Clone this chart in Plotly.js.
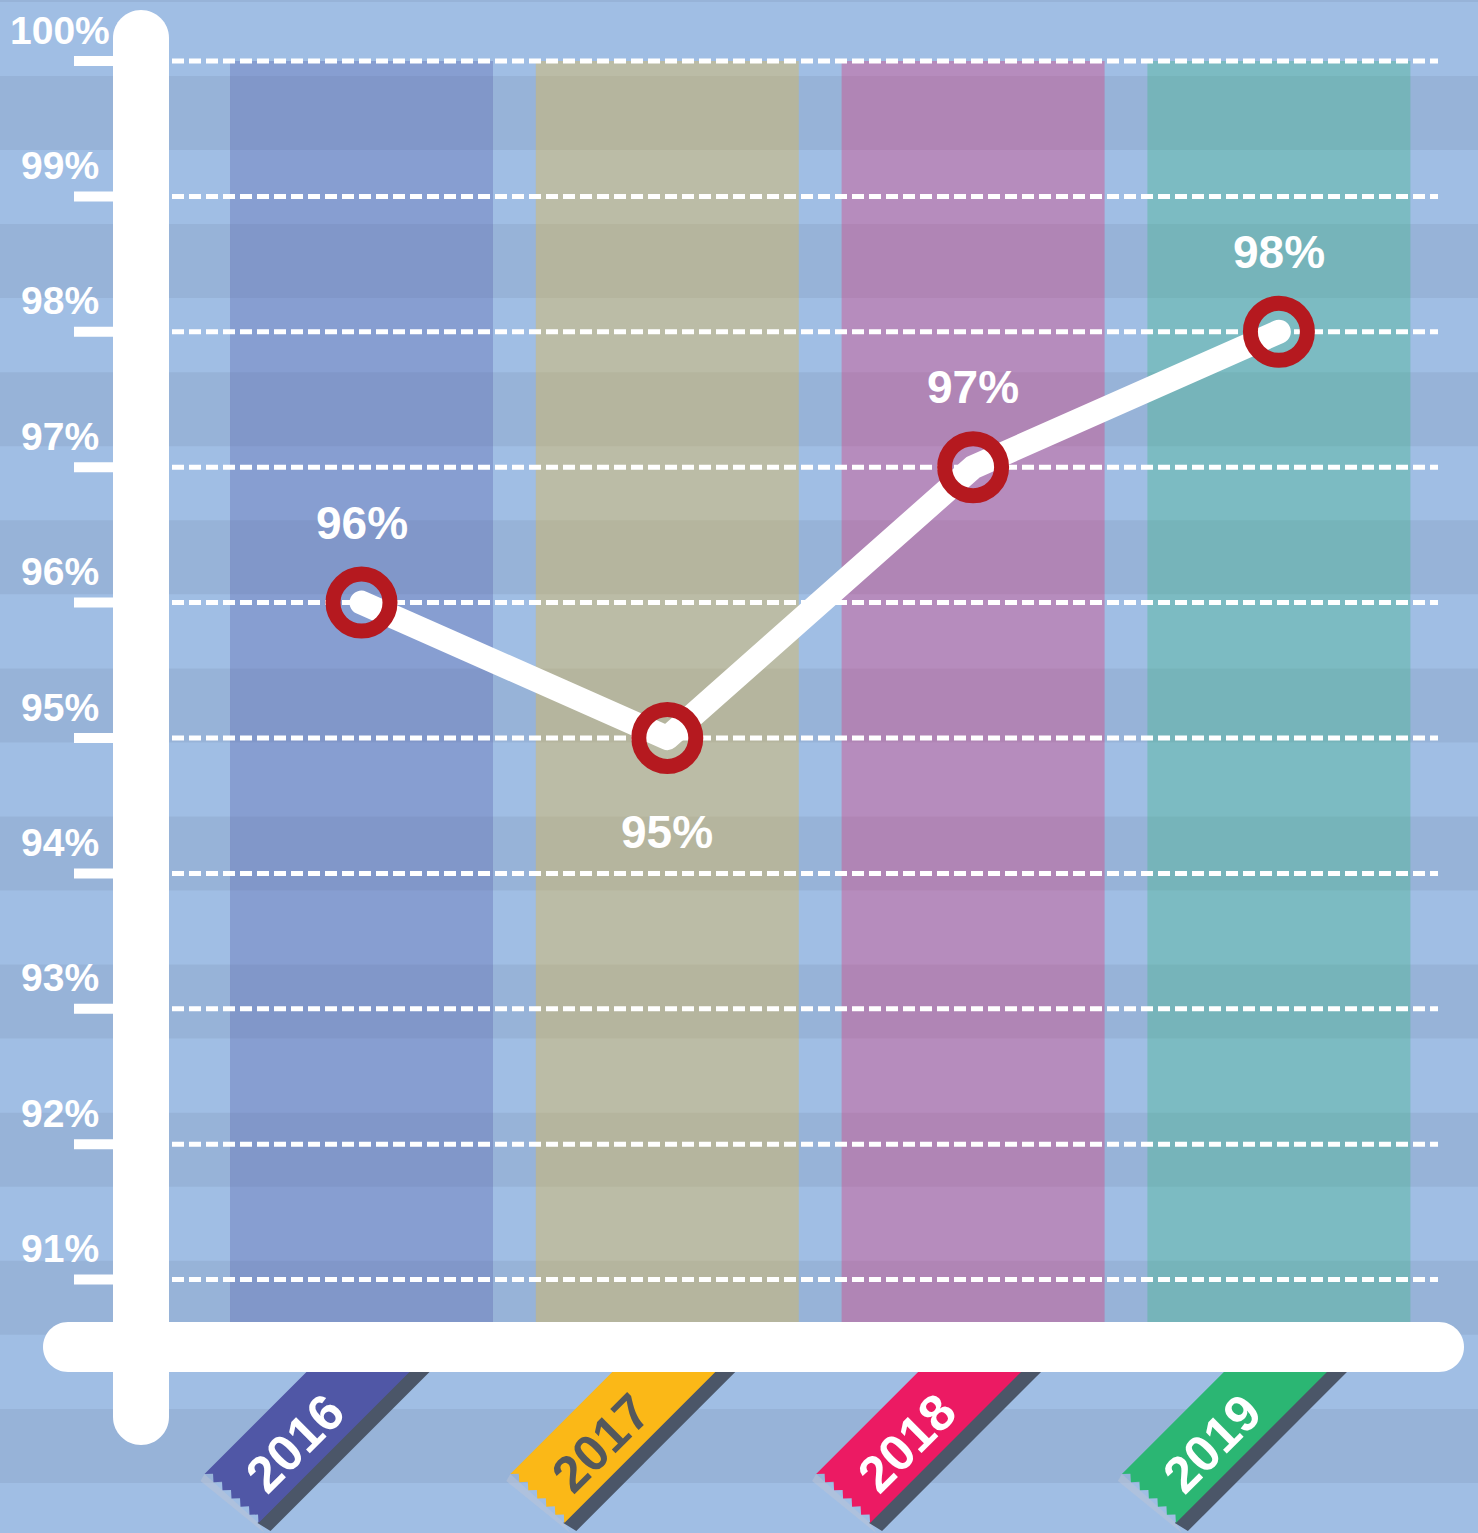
<!DOCTYPE html>
<html>
<head>
<meta charset="utf-8">
<script src="https://cdn.plot.ly/plotly-3.0.1.min.js"></script>
<style>
html,body{margin:0;padding:0;background:#a0bee4;overflow:hidden;}
#chart{width:1478px;height:1533px;}
</style>
</head>
<body>
<div id="chart"></div>
<script>
// ---------- data ----------
const categories = ['2016', '2017', '2018', '2019'];
const values = [96, 95, 97, 98];
const valueLabels = ['96%', '95%', '97%', '98%'];
const labelPlacement = ['above', 'below', 'above', 'above'];
const tickValues = [91, 92, 93, 94, 95, 96, 97, 98, 99, 100];
const tickLabels = ['91%', '92%', '93%', '94%', '95%', '96%', '97%', '98%', '99%', '100%'];
const columnTop = 100;
const ribbonColors = ['#5057a6', '#fbb817', '#ec1a63', '#2bb673'];
const ribbonTextColors = ['#ffffff', '#54585c', '#ffffff', '#ffffff'];

// ---------- layout constants ----------
const W = 1478, H = 1533;
const CX0 = 361.5, CDX = 305.8;        // pixel centre of first category, spacing
const Y100 = 61, YSTEP = 135.4;        // pixel of 100%, pixels per 1%
const xRange = [(0 - CX0) / CDX, (W - CX0) / CDX];
const yRange = [100 - (H - Y100) / YSTEP, 100 + Y100 / YSTEP];
const yBase = 90.5;
const FONT = 'Liberation Sans, Arial, Helvetica, sans-serif';

const X = p => p / W;
const Y = p => 1 - p / H;
const catPx = i => CX0 + CDX * i;
const xFromPx = p => (p - CX0) / CDX;
const P = (x, y) => X(x).toFixed(5) + ',' + Y(y).toFixed(5);

function rgba(hex, a) {
  const n = parseInt(hex.slice(1), 16);
  return 'rgba(' + ((n >> 16) & 255) + ',' + ((n >> 8) & 255) + ',' + (n & 255) + ',' + a + ')';
}

function roundRect(x0, y0, x1, y1, r) {
  const k = 0.5523 * r;
  return 'M ' + P(x0 + r, y0) +
    ' L ' + P(x1 - r, y0) +
    ' C ' + P(x1 - r + k, y0) + ' ' + P(x1, y0 + r - k) + ' ' + P(x1, y0 + r) +
    ' L ' + P(x1, y1 - r) +
    ' C ' + P(x1, y1 - r + k) + ' ' + P(x1 - r + k, y1) + ' ' + P(x1 - r, y1) +
    ' L ' + P(x0 + r, y1) +
    ' C ' + P(x0 + r - k, y1) + ' ' + P(x0, y1 - r + k) + ' ' + P(x0, y1 - r) +
    ' L ' + P(x0, y0 + r) +
    ' C ' + P(x0, y0 + r - k) + ' ' + P(x0 + r - k, y0) + ' ' + P(x0 + r, y0) + ' Z';
}

const shapes = [];

// background stripes
for (let k = -1; k <= 10; k++) {
  const y0 = 76 + 148.1 * k;
  shapes.push({type: 'rect', xref: 'paper', yref: 'paper', layer: 'below',
    x0: 0, x1: 1, y0: Y(y0 + 74), y1: Y(Math.max(y0, 0)),
    fillcolor: '#97b3d8', line: {width: 0}});
}

// ribbons
categories.forEach((c, i) => {
  const cx = catPx(i);
  const A = [cx - 157, 1474], B = [cx - 103, 1523];
  const LT = [cx - 23, 1340], RT = [cx + 80, 1340];
  // faint under-shadow
  shapes.push({type: 'path', xref: 'paper', yref: 'paper', layer: 'above',
    path: 'M ' + P(A[0], A[1]) + ' L ' + P(B[0], B[1]) + ' L ' + P(B[0] + 6, B[1] + 10) +
      ' L ' + P(A[0] - 4, A[1] + 7) + ' Z',
    fillcolor: 'rgba(190,198,212,0.45)', line: {width: 0}});
  // dark side
  shapes.push({type: 'path', xref: 'paper', yref: 'paper', layer: 'above',
    path: 'M ' + P(RT[0] - 2, RT[1]) + ' L ' + P(cx + 100, 1340) + ' L ' + P(cx - 91, 1531) +
      ' L ' + P(B[0] - 1, B[1]) + ' Z',
    fillcolor: '#4b5668', line: {width: 0}});
  // coloured ribbon with zigzag end
  let d = 'M ' + P(LT[0], LT[1]) + ' L ' + P(RT[0], RT[1]) + ' L ' + P(B[0], B[1]);
  const n = 6, steps = 2 * n;
  const vx = A[0] - B[0], vy = A[1] - B[1];
  const len = Math.hypot(vx, vy);
  const nx = -vy / len, ny = vx / len;
  const inX = nx > 0 ? nx : -nx, inY = nx > 0 ? ny : -ny;
  for (let k = 1; k <= steps; k++) {
    let x = B[0] + vx * k / steps, y = B[1] + vy * k / steps;
    if (k % 2 === 1) { x += inX * 6; y += inY * 6; }
    d += ' L ' + P(x, y);
  }
  d += ' Z';
  shapes.push({type: 'path', xref: 'paper', yref: 'paper', layer: 'above',
    path: d, fillcolor: ribbonColors[i], line: {width: 0}});
});

// x-axis bar
shapes.push({type: 'path', xref: 'paper', yref: 'paper', layer: 'above',
  path: roundRect(43, 1322, 1464, 1372, 25), fillcolor: '#ffffff', line: {width: 0}});
// y-axis bar
shapes.push({type: 'path', xref: 'paper', yref: 'paper', layer: 'above',
  path: roundRect(113, 10, 169, 1445, 28), fillcolor: '#ffffff', line: {width: 0}});
// tick marks
tickValues.forEach(v => {
  shapes.push({type: 'rect', xref: 'paper', yref: 'y', layer: 'above',
    ysizemode: 'pixel', yanchor: v, y0: -5, y1: 5,
    x0: X(74), x1: X(114), fillcolor: '#ffffff', line: {width: 0}});
});

// ---------- traces ----------
const xIdx = categories.map((_, i) => i);

const columns = {
  type: 'bar', x: xIdx, y: categories.map(() => columnTop - yBase), base: yBase,
  width: 0.86, marker: {color: ribbonColors.map(c => rgba(c, 0.3)), line: {width: 0}},
  hoverinfo: 'skip'
};

const gx0 = xFromPx(172), gx1 = xFromPx(1438);
const gridX = [], gridY = [];
tickValues.forEach(v => { gridX.push(gx0, gx1, null); gridY.push(v, v, null); });
const grid = {
  type: 'scatter', mode: 'lines', x: gridX, y: gridY,
  line: {color: '#ffffff', width: 5, dash: '12px,5px'}, hoverinfo: 'skip'
};

const series = {
  type: 'scatter', mode: 'lines+markers', x: xIdx, y: values,
  line: {color: '#ffffff', width: 24},
  marker: {size: 57, color: 'rgba(0,0,0,0)', line: {color: '#b5191f', width: 15}},
  cliponaxis: false, hoverinfo: 'skip'
};

// ---------- annotations ----------
const annotations = [];
tickValues.forEach((v, i) => {
  annotations.push({xref: 'paper', yref: 'y', x: X(59.5), y: v, yshift: 31,
    xanchor: 'center', yanchor: 'middle', showarrow: false, text: tickLabels[i],
    font: {family: FONT, size: 39, color: '#ffffff', weight: 'bold'}});
});
values.forEach((v, i) => {
  annotations.push({xref: 'x', yref: 'y', x: i, y: v,
    yshift: labelPlacement[i] === 'above' ? 80 : -94,
    xanchor: 'center', yanchor: 'middle', showarrow: false, text: valueLabels[i],
    font: {family: FONT, size: 46, color: '#ffffff', weight: 'bold'}});
});
categories.forEach((c, i) => {
  const cx = catPx(i);
  annotations.push({xref: 'paper', yref: 'paper', x: X(cx - 67), y: Y(1443),
    xanchor: 'center', yanchor: 'middle', showarrow: false, text: c, textangle: -45,
    font: {family: FONT, size: 51, color: ribbonTextColors[i], weight: 'bold'}});
});

const layout = {
  width: W, height: H, margin: {l: 0, r: 0, t: 0, b: 0, pad: 0},
  paper_bgcolor: '#a0bee4', plot_bgcolor: 'rgba(0,0,0,0)',
  showlegend: false, hovermode: false, barmode: 'overlay',
  xaxis: {range: xRange, visible: false, fixedrange: true},
  yaxis: {range: yRange, visible: false, fixedrange: true},
  shapes: shapes, annotations: annotations
};

Plotly.newPlot('chart', [columns, grid, series], layout, {staticPlot: true, displayModeBar: false})
  .then(() => {
    const traces = document.querySelectorAll('.scatterlayer .trace');
    if (traces.length > 1) {
      const ln = traces[1].querySelector('.js-line');
      if (ln) { ln.style.strokeLinejoin = 'round'; ln.style.strokeLinecap = 'round'; }
    }
  });
</script>
</body>
</html>
